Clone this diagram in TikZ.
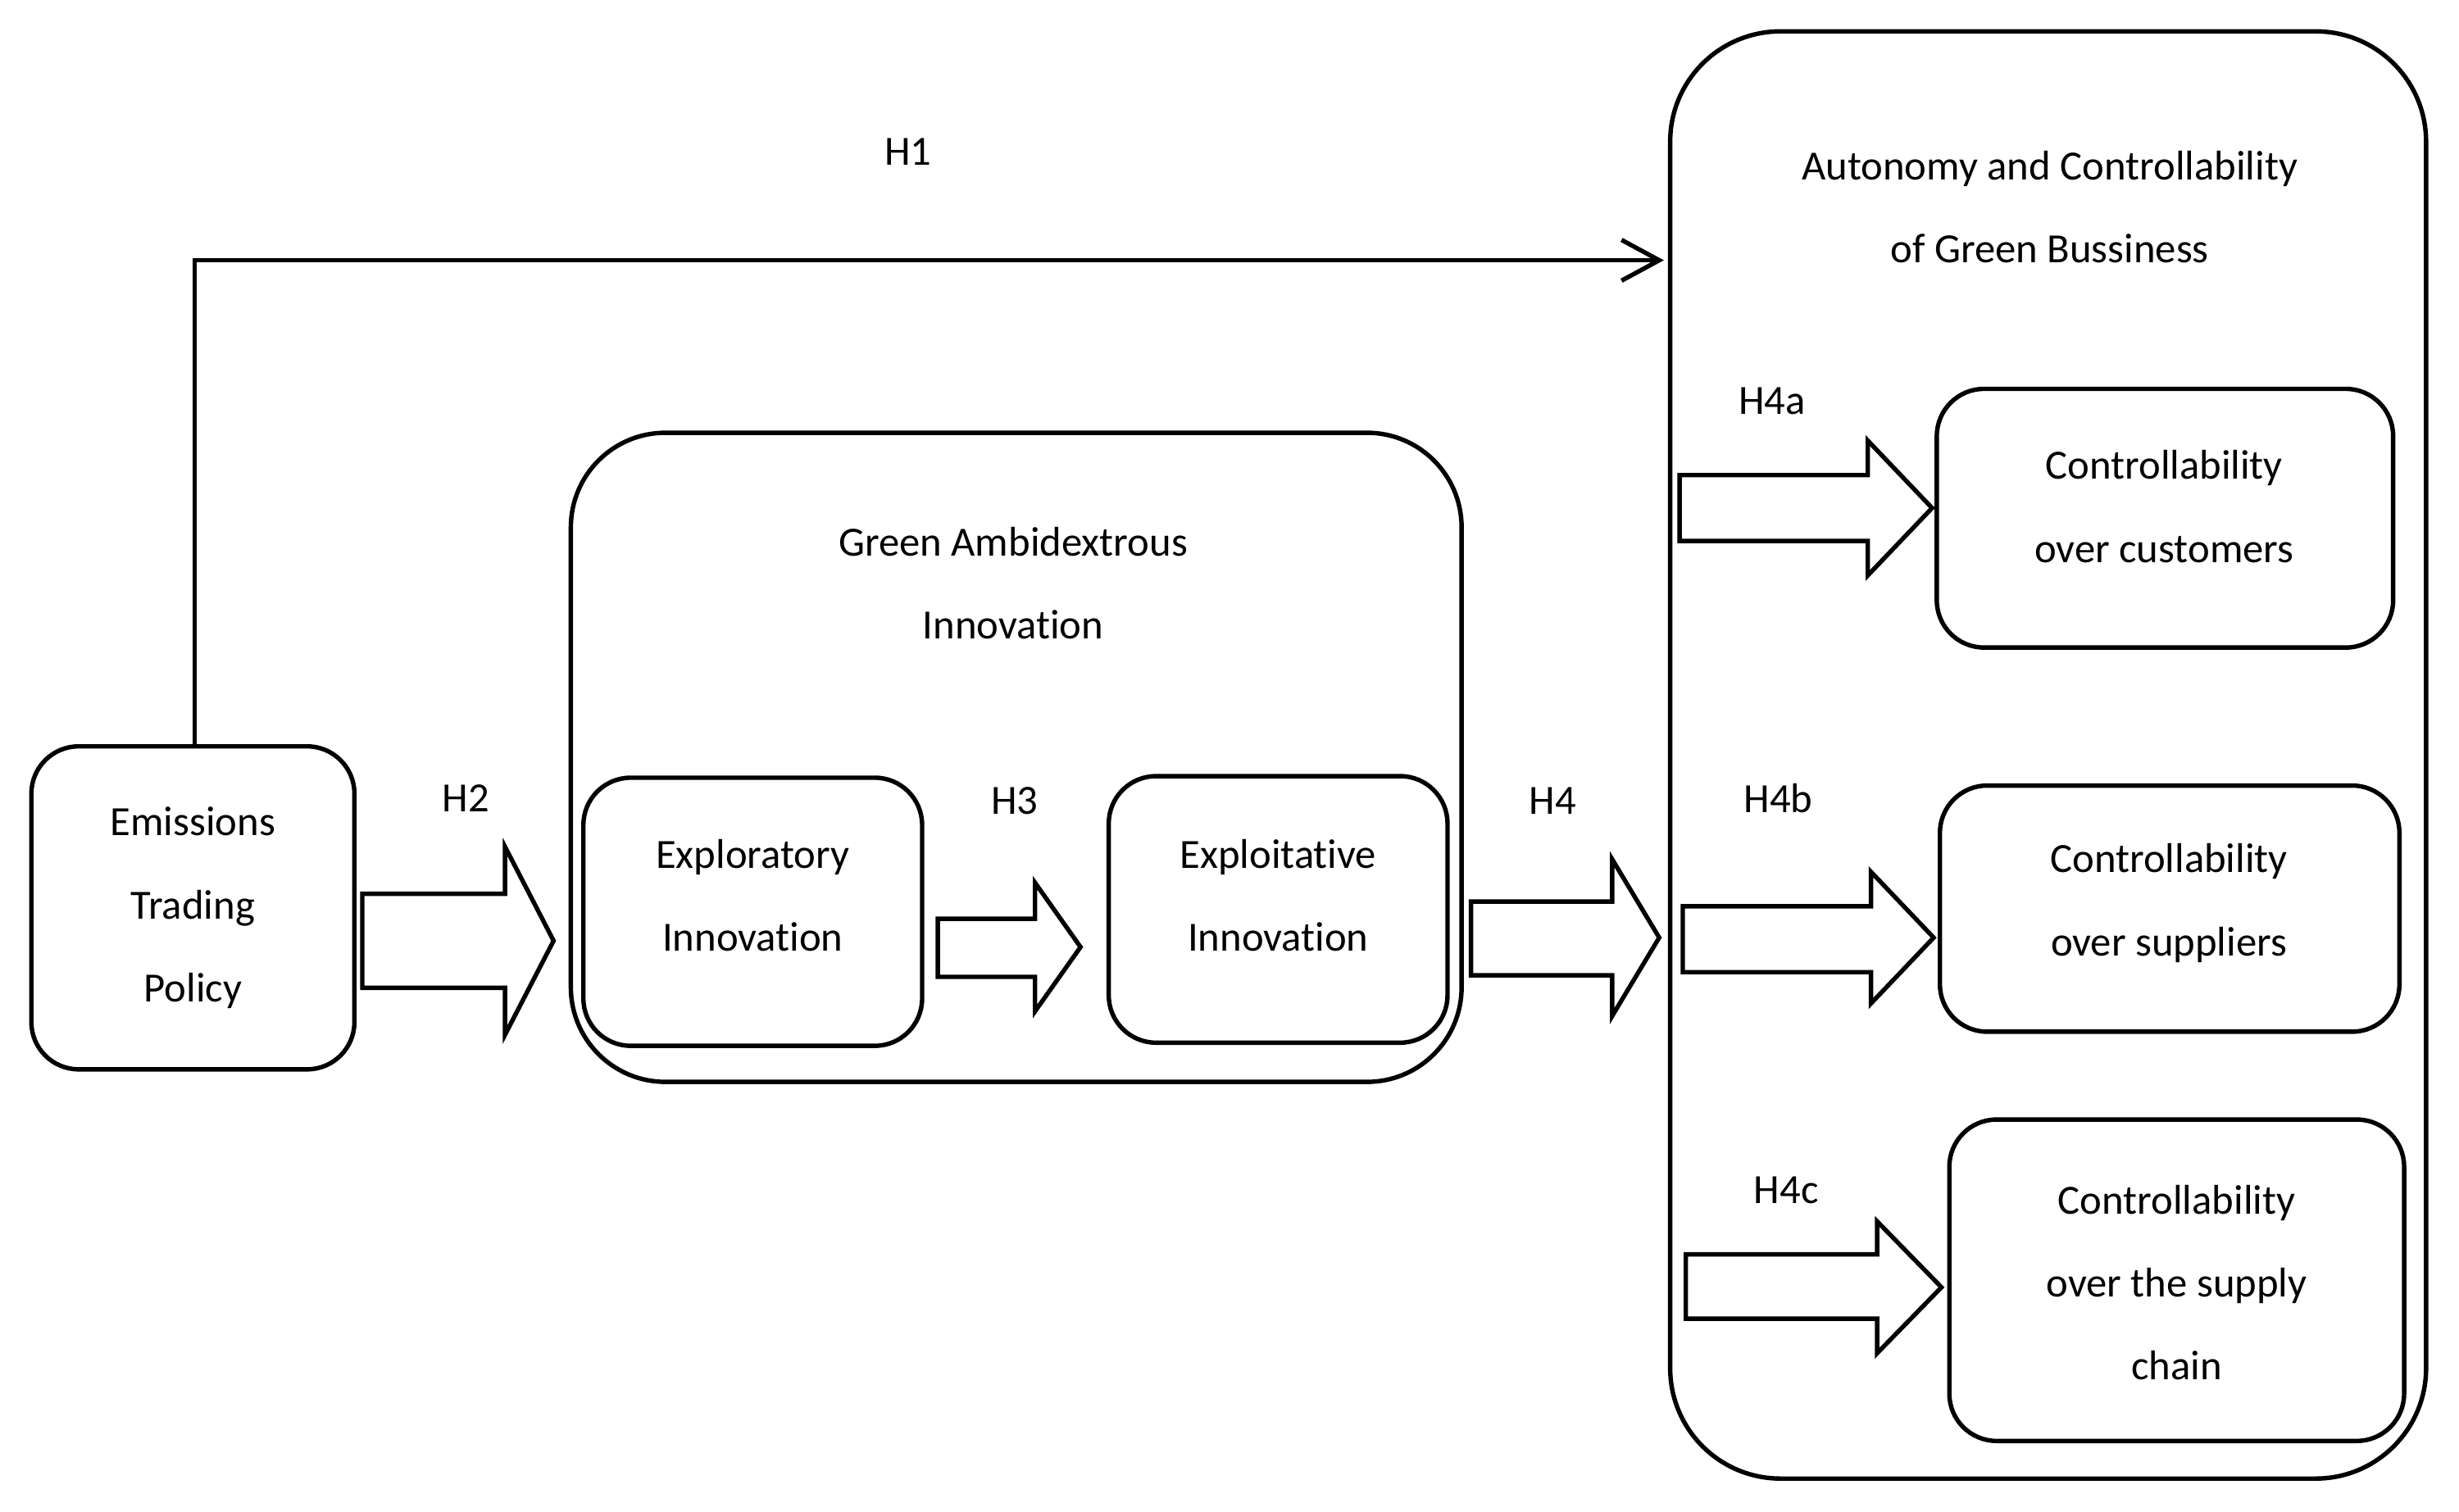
\documentclass[tikz,border=0pt]{standalone}
\usepackage{fontspec}
\setmainfont{Carlito}[Ligatures=NoCommon]
\begin{document}
\begin{tikzpicture}[x=0.00995cm,y=-0.00995cm,line width=0.8pt,
  box/.style={draw,rounded corners=#1},
  txt/.style={align=center,font=\fontsize{7.5}{15}\selectfont},
  lab/.style={font=\fontsize{7.5}{9}\selectfont}]
\useasboundingbox (0,0) rectangle (1568,964.3);
% boxes
\draw[box=0.3cm] (20,476) rectangle (226,682);
\node[txt] (etp) at (123,579) {Emissions\\Trading\\Policy};
\draw[box=0.6cm] (364,276) rectangle (932,690);
\node[txt] (gai) at (646,372) {Green Ambidextrous\\Innovation};
\draw[box=0.3cm] (372,496) rectangle (588,667);
\node[txt] (exr) at (480,571) {Exploratory\\Innovation};
\draw[box=0.3cm] (707,495) rectangle (923,665);
\node[txt] (exl) at (815,571) {Exploitative\\Innovation};
\draw[box=0.7cm] (1065,20) rectangle (1547,943);
\node[txt] (acg) at (1307,132) {Autonomy and Controllability\\of Green Bussiness};
\draw[box=0.3cm] (1235,248) rectangle (1526,413);
\node[txt] (cc) at (1380,323) {Controllability\\over customers};
\draw[box=0.3cm] (1237,501) rectangle (1530,658);
\node[txt] (cs) at (1383,576) {Controllability\\over suppliers};
\draw[box=0.3cm] (1243,714) rectangle (1533,919);
\node[txt] (csc) at (1388,818) {Controllability\\over the supply\\chain};
% H1
\coordinate (h1a) at (124,476);
\coordinate (h1b) at (124,166);
\coordinate (h1c) at (1058,166);
\draw (h1a) -- (h1b) -- (h1c);
\draw (1034,153) -- (1058,166) -- (1034,179);
% block arrows
\draw (231,570) -- (322,570) -- (322,540) -- (353,600) -- (322,660) -- (322,630) -- (231,630) -- cycle;
\draw (598,586) -- (660,586) -- (660,563) -- (689,604) -- (660,645) -- (660,623) -- (598,623) -- cycle;
\draw (938,575) -- (1028,575) -- (1028,548) -- (1058,598) -- (1028,648) -- (1028,622) -- (938,622) -- cycle;
\draw (1071,303) -- (1191,303) -- (1191,281) -- (1232,324) -- (1191,367) -- (1191,345) -- (1071,345) -- cycle;
\draw (1073,578) -- (1193,578) -- (1193,556) -- (1233,598) -- (1193,640) -- (1193,620) -- (1073,620) -- cycle;
\draw (1075,800) -- (1197,800) -- (1197,779) -- (1238,821) -- (1197,863) -- (1197,841) -- (1075,841) -- cycle;
% labels
\node[lab] (l1) at (579,97) {H1};
\node[lab] (l2) at (297,509) {H2};
\node[lab] (l3) at (647,511) {H3};
\node[lab] (l4) at (990,511) {H4};
\node[lab] (l4a) at (1130,256) {H4a};
\node[lab] (l4b) at (1134,509) {H4b};
\node[lab] (l4c) at (1139,759) {H4c};
\end{tikzpicture}
\end{document}
